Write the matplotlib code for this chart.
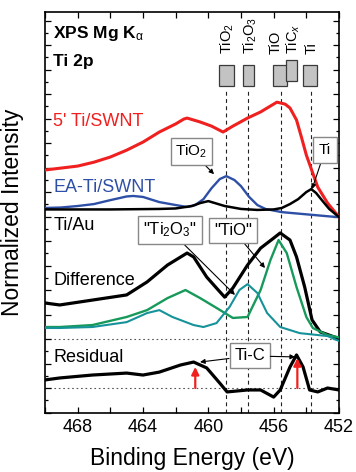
import matplotlib
matplotlib.use("Agg")
import matplotlib.pyplot as plt
from matplotlib.ticker import MultipleLocator
from matplotlib.patches import Rectangle

plt.rcParams['font.family'] = ['Liberation Sans', 'DejaVu Sans']
plt.rcParams['mathtext.fontset'] = 'custom'
plt.rcParams['mathtext.rm'] = 'Liberation Sans'
plt.rcParams['mathtext.it'] = 'Liberation Sans:italic'
plt.rcParams['mathtext.bf'] = 'Liberation Sans:bold'

# ---------------- data (binding energy in eV, normalized intensity, offset) ----------------
red_x = [470, 469, 468, 467, 466, 465, 464, 463, 462, 461.5, 461.3, 460.5, 459.8, 459.1, 458.5,
         457.6, 456.8, 456.0, 455.8, 455.3, 455.0, 454.6, 454.3, 454.0, 453.3, 452.7, 452.1, 452.0]
red_y = [8.90, 8.98, 9.06, 9.22, 9.43, 9.71, 10.04, 10.45, 10.78, 10.98, 11.02, 10.86, 10.69, 10.45, 10.69,
         11.02, 11.27, 11.59, 11.67, 11.59, 11.43, 10.94, 10.24, 9.51, 8.20, 7.55, 7.06, 6.98]

blue_x = [470, 469, 468, 467, 466, 465, 464.6, 464, 463, 462, 461.3, 460.8, 460.3, 459.8, 459.3,
          458.9, 458.4, 458.0, 457.5, 457.0, 456.5, 455.5, 454.5, 453.5, 452.5, 452.0]
blue_y = [7.35, 7.37, 7.43, 7.51, 7.67, 7.82, 7.84, 7.80, 7.59, 7.47, 7.39, 7.47, 7.71, 8.16, 8.53,
          8.65, 8.49, 8.24, 7.80, 7.47, 7.31, 7.18, 7.12, 7.06, 7.00, 6.98]

tiau_x = [470, 466, 463, 462, 461, 460.5, 460.0, 459.6, 459.0, 458.0, 457.0, 456.0, 455.5, 455.0,
          454.5, 454.0, 453.7, 453.4, 453.0, 452.6, 452.0]
tiau_y = [7.29, 7.29, 7.31, 7.33, 7.43, 7.55, 7.63, 7.55, 7.43, 7.31, 7.27, 7.29, 7.35, 7.51,
          7.71, 8.00, 8.12, 7.96, 7.63, 7.31, 6.98]

diff_x = [470, 469.1, 467.1, 465.0, 463.75, 462.5, 461.3, 460.9, 460.1, 459.5, 459.0, 458.5, 457.6,
          456.8, 456.0, 455.6, 455.0, 454.6, 454.1, 453.65, 453.15, 452.1, 452.0]
diff_y = [3.47, 3.39, 3.59, 3.80, 4.33, 5.02, 5.51, 5.35, 4.53, 4.08, 3.71, 4.08, 5.02,
          5.71, 6.12, 6.33, 6.04, 5.35, 4.12, 2.78, 2.29, 2.04, 2.00]

green_x = [470, 469.1, 467.1, 465.0, 463.75, 462.5, 461.4, 460.5, 459.5, 458.5, 457.6, 456.8, 456.2,
           455.7, 455.2, 454.6, 454.0, 453.6, 452.7, 452.1, 452.0]
green_y = [2.49, 2.49, 2.57, 2.90, 3.18, 3.67, 4.00, 3.67, 3.27, 2.86, 2.90, 4.00, 5.22,
           6.04, 5.51, 4.12, 2.90, 2.45, 2.16, 2.08, 2.06]

teal_x = [470, 469.1, 467.1, 465.0, 463.75, 463.0, 462.2, 460.9, 460.3, 459.5, 458.7, 458.1, 457.6,
          457.0, 456.4, 455.6, 454.4, 452.7, 452.0]
teal_y = [2.45, 2.45, 2.49, 2.69, 3.06, 3.18, 2.90, 2.57, 2.49, 2.65, 3.31, 4.00, 4.24,
          3.88, 3.06, 2.49, 2.24, 2.12, 1.92]

resid_x = [470, 469.1, 467.1, 465.0, 464.0, 463.0, 461.7, 460.9, 460.1, 459.3, 458.85, 457.6, 456.8,
           456.0, 455.6, 455.0, 454.6, 454.2, 453.8, 453.3, 452.7, 452.0]
resid_y = [0.33, 0.41, 0.53, 0.61, 0.53, 0.65, 0.94, 1.06, 0.82, 0.20, -0.16, -0.08, -0.08,
           -0.37, -0.08, 0.86, 1.35, 0.86, -0.08, -0.16, 0.00, -0.08]

# reference positions (eV) and marker box widths
ref_labels = ['TiO$_2$', 'Ti$_2$O$_3$', 'TiO', 'TiC$_x$', 'Ti']
ref_pos = [458.9, 457.55, 455.6, 454.9, 453.75]
ref_label_pos = [458.85, 457.45, 455.85, 454.8, 453.65]
ref_width = [0.92, 0.68, 0.86, 0.68, 0.86]
ref_raise = [0.0, 0.0, 0.0, 0.2, 0.0]
dashed_refs = [458.9, 457.55, 455.57, 453.73]

baselines = [2.0, 0.0]
tic_arrows_x = [460.8, 454.55]
tic_arrows_top = [0.86, 1.22]

# ---------------- figure ----------------
fig = plt.figure(figsize=(3.56, 4.72), dpi=100)
ax = fig.add_axes([45/356, 1-413/472, 294/356, 401/472])
ax.set_xlim(470, 452)
ax.set_ylim(-1.02, 15.35)

for b in baselines:
    ax.axhline(b, color='#555555', lw=0.8, ls=(0, (1.5, 2.5)), zorder=1)
ax.vlines(dashed_refs, -1.02, 12.24, colors='#222222', lw=0.8, linestyles=(0, (3.5, 3)), zorder=1)

ax.plot(red_x, red_y, color='#f02020', lw=2.2, zorder=3)
ax.plot(blue_x, blue_y, color='#2e4fa6', lw=1.7, zorder=3)
ax.plot(tiau_x, tiau_y, color='black', lw=1.8, zorder=4)
ax.plot(diff_x, diff_y, color='black', lw=2.3, zorder=3)
ax.plot(green_x, green_y, color='#17995a', lw=1.7, zorder=4)
ax.plot(teal_x, teal_y, color='#16939a', lw=1.5, zorder=4)
ax.plot(resid_x, resid_y, color='black', lw=2.3, zorder=3)

# reference boxes and labels
for p, w, r in zip(ref_pos, ref_width, ref_raise):
    ax.add_patch(Rectangle((p - w/2, 12.33 + r), w, 0.86, fc='#c3c3c3', ec='#3a3a3a', lw=0.9,
                           zorder=5 + r*10))
for lab, p in zip(ref_labels, ref_label_pos):
    ax.text(p, 13.62, lab, rotation=90, ha='center', va='bottom', fontsize=10.5, zorder=6)

# left labels
lx = 469.5
ax.text(lx, 14.29, 'XPS Mg K$_\\mathrm{\\alpha}$', fontsize=12.5, fontweight='bold', va='baseline')
ax.text(lx, 13.14, 'Ti 2p', fontsize=12.5, fontweight='bold', va='baseline')
ax.text(lx, 10.69, "5' Ti/SWNT", fontsize=13, color='#f02020', va='baseline')
ax.text(lx, 8.00, 'EA-Ti/SWNT', fontsize=13, color='#2e4fa6', va='baseline')
ax.text(lx, 6.45, 'Ti/Au', fontsize=13, color='black', va='baseline')
ax.text(lx, 4.20, 'Difference', fontsize=13, color='black', va='baseline')
ax.text(lx, 1.06, 'Residual', fontsize=13, color='black', va='baseline')

box = dict(boxstyle='square,pad=0.3', fc='white', ec='#888888', lw=1.0)
arr = dict(arrowstyle='-|>', color='black', lw=0.8, mutation_scale=7, shrinkA=0, shrinkB=0)

ax.annotate('TiO$_2$', xy=(459.65, 8.73), xytext=(461.03, 9.65), ha='center', va='center',
            fontsize=11, bbox=box, arrowprops=arr, zorder=7)
ax.annotate('Ti', xy=(453.65, 8.12), xytext=(452.85, 9.71), ha='center', va='center',
            fontsize=11, bbox=dict(boxstyle='square,pad=0.4', fc='white', ec='#888888', lw=1.0),
            arrowprops=arr, zorder=7)
ax.annotate('"Ti$_2$O$_3$"', xy=(458.37, 3.80), xytext=(462.37, 6.45), ha='center', va='center',
            fontsize=12, bbox=box, arrowprops=arr, zorder=7)
ax.annotate('"TiO"', xy=(456.53, 4.90), xytext=(458.49, 6.45), ha='center', va='center',
            fontsize=12, bbox=box, arrowprops=arr, zorder=7)
ax.annotate('Ti-C', xy=(460.51, 1.06), xytext=(457.45, 1.31), ha='center', va='center',
            fontsize=12, bbox=box, arrowprops=arr, zorder=7)
ax.annotate('Ti-C', xy=(454.69, 1.27), xytext=(457.45, 1.31), ha='center', va='center',
            fontsize=12, color='none', bbox=dict(boxstyle='square,pad=0.3', fc='none', ec='none'),
            arrowprops=arr, zorder=7)

for xa, ya in zip(tic_arrows_x, tic_arrows_top):
    ax.annotate('', xy=(xa, ya), xytext=(xa, 0.0),
                arrowprops=dict(arrowstyle='-|>', color='#f02020', lw=1.6, mutation_scale=11,
                                shrinkA=0, shrinkB=0), zorder=6)

# axes styling
ax.xaxis.set_major_locator(MultipleLocator(4))
ax.xaxis.set_minor_locator(MultipleLocator(2))
ax.yaxis.set_major_locator(MultipleLocator(1))
ax.yaxis.set_minor_locator(MultipleLocator(0.5))
ax.tick_params(which='both', direction='in', top=True, right=True, width=0.9)
ax.tick_params(which='major', length=4)
ax.tick_params(which='minor', length=2.2)
ax.tick_params(axis='x', which='minor', length=4)
ax.tick_params(axis='x', labelsize=13, pad=4)
ax.tick_params(axis='y', labelleft=False)
for s in ax.spines.values():
    s.set_linewidth(1.2)

ax.set_xlabel('Binding Energy (eV)', fontsize=16.5, labelpad=8)
ax.set_ylabel('Normalized Intensity', fontsize=16.5)
ax.yaxis.set_label_coords(-0.07, 0.5)

fig.savefig('out.png', dpi=100)
